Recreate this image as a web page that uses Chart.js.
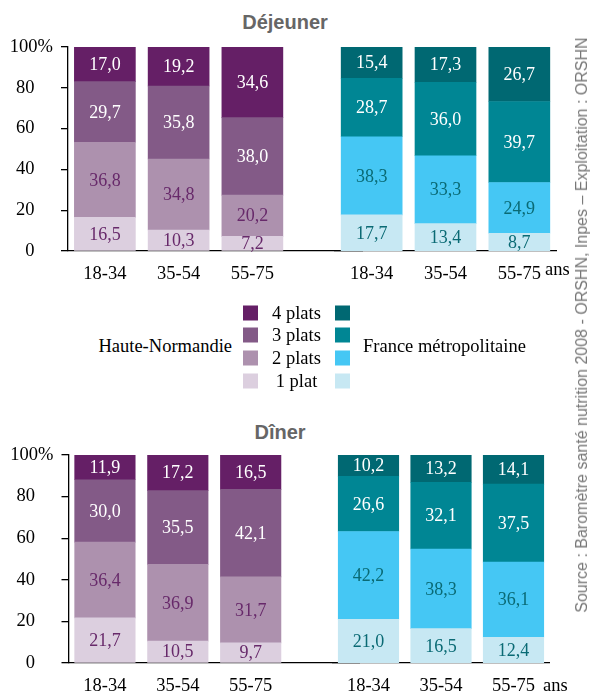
<!DOCTYPE html>
<html>
<head>
<meta charset="utf-8">
<script src="https://cdn.jsdelivr.net/npm/chart.js@4.4.1/dist/chart.umd.min.js"></script>
<style>
  body { margin: 0; background: #fff; }
  #page { position: relative; width: 593px; height: 696px; overflow: hidden; font-family: "Liberation Serif", serif; color: #000; }
  canvas { position: absolute; }
  .title { position: absolute; font: bold 20px/1 "Liberation Sans", Arial, sans-serif; color: #666; transform: translate(-50%, -50%); white-space: nowrap; }
  .txt { position: absolute; font: 18.5px/1 "Liberation Serif", serif; white-space: nowrap; transform: translateY(-50%); }
  .sq { position: absolute; width: 15px; height: 15px; transform: translateY(-50%); }
  #source { position: absolute; left: 582px; top: 325px; font: 16px/1 "Liberation Sans", Arial, sans-serif; color: #777; white-space: nowrap; transform: translate(-50%, -50%) rotate(-90deg); }
</style>
</head>
<body>
<div id="page">
  <div class="title" style="left:285px; top:21.5px">Déjeuner</div>
  <div class="title" style="left:280px; top:431.5px">Dîner</div>
  <canvas id="dejL" width="363" height="291" style="left:0; top:0"></canvas>
  <canvas id="dejR" width="273" height="291" style="left:320px; top:0"></canvas>
  <canvas id="dinL" width="360" height="295" style="left:0; top:408px"></canvas>
  <canvas id="dinR" width="273" height="295" style="left:320px; top:408px"></canvas>
  <div class="txt" style="left:545px; top:269px">ans</div>
  <div class="txt" style="left:543px; top:685px">ans</div>
  <div id="legend"></div>
  <div id="source">Source : Baromètre santé nutrition 2008 - ORSHN, Inpes – Exploitation : ORSHN</div>
</div>
<script>
  const ageGroups = ['18-34', '35-54', '55-75'];
  const platLabels = ['1 plat', '2 plats', '3 plats', '4 plats'];
  const regions = ['Haute-Normandie', 'France métropolitaine'];
  const yTickValues = [0, 20, 40, 60, 80, 100];

  // en %, de 1 plat à 4 plats, par tranche d'âge
  const dejeunerHN = [
    [16.5, 10.3, 7.2],
    [36.8, 34.8, 20.2],
    [29.7, 35.8, 38.0],
    [17.0, 19.2, 34.6],
  ];
  const dejeunerFR = [
    [17.7, 13.4, 8.7],
    [38.3, 33.3, 24.9],
    [28.7, 36.0, 39.7],
    [15.4, 17.3, 26.7],
  ];
  const dinerHN = [
    [21.7, 10.5, 9.7],
    [36.4, 36.9, 31.7],
    [30.0, 35.5, 42.1],
    [11.9, 17.2, 16.5],
  ];
  const dinerFR = [
    [21.0, 16.5, 12.4],
    [42.2, 38.3, 36.1],
    [26.6, 32.1, 37.5],
    [10.2, 13.2, 14.1],
  ];

  const hnColors = ['#dccfdf', '#ad91ae', '#835a87', '#651f66'];
  const frColors = ['#c7e8f3', '#45c7f4', '#008694', '#006872'];
  const hnText = ['#67296a', '#67296a', '#ffffff', '#ffffff'];
  const frText = ['#0a6a74', '#0a6a74', '#ffffff', '#ffffff'];

  const serif = '"Liberation Serif", serif';

  const valueLabels = {
    id: 'valueLabels',
    afterDatasetsDraw(chart) {
      const ctx = chart.ctx;
      ctx.save();
      ctx.font = '18px ' + serif;
      ctx.textAlign = 'center';
      ctx.textBaseline = 'middle';
      chart.data.datasets.forEach((ds, i) => {
        chart.getDatasetMeta(i).data.forEach((bar, j) => {
          const v = ds.data[j];
          if (v == null) return;
          ctx.fillStyle = ds.labelColor;
          ctx.fillText(v.toFixed(1).replace('.', ','), bar.x, (bar.y + bar.base) / 2 + 1);
        });
      });
      ctx.restore();
    }
  };

  function makeChart(id, labels, series, colors, textColors, o) {
    const datasets = series.map((vals, k) => ({
      label: platLabels[k],
      data: vals,
      backgroundColor: colors[k],
      labelColor: textColors[k],
      borderWidth: 0,
      barThickness: o.bar,
    }));
    const y = {
      stacked: true,
      display: o.showY,
      min: 0,
      max: 100,
      afterBuildTicks: s => { s.ticks = yTickValues.map(v => ({ value: v })); },
      grid: { drawOnChartArea: false, color: '#000', tickLength: 7, lineWidth: 1.3 },
      border: { color: '#000', width: 1.3 },
      ticks: {
        color: '#000',
        font: { family: serif, size: 18.5 },
        padding: 8,
        callback: v => v === 100 ? '100%' : v + '\u2003'
      }
    };
    if (o.showY) y.afterFit = s => { s.width = 68; };
    new Chart(document.getElementById(id), {
      type: 'bar',
      data: { labels: labels, datasets: datasets },
      plugins: [valueLabels],
      options: {
        responsive: false,
        animation: false,
        layout: { padding: { top: o.top, left: o.left, right: o.right, bottom: 0 } },
        plugins: { legend: { display: false }, tooltip: { enabled: false } },
        scales: {
          x: {
            stacked: true,
            grid: { display: false, drawTicks: false },
            border: { color: '#000', width: 1.3 },
            ticks: { color: '#000', font: { family: serif, size: 18.5 }, padding: 12 },
            afterFit: s => { s.height = 40; }
          },
          y: y
        }
      }
    });
  }

  const leftLabels = ageGroups.concat(['']);
  makeChart('dejL', leftLabels, dejeunerHN, hnColors, hnText, { showY: true, top: 47, left: 0, right: 0, bar: 61 });
  makeChart('dejR', ageGroups, dejeunerFR, frColors, frText, { showY: false, top: 47, left: 14.75, right: 36.75, bar: 61 });
  makeChart('dinL', leftLabels, dinerHN, hnColors, hnText, { showY: true, top: 47, left: 0.5, right: 0, bar: 60.5 });
  makeChart('dinR', ageGroups, dinerFR, frColors, frText, { showY: false, top: 47, left: 12.25, right: 43.25, bar: 60.5 });

  // légende
  const legend = document.getElementById('legend');
  let html = '';
  for (let r = 0; r < 4; r++) {
    const k = 3 - r;
    const y = 312.5 + r * 22.67;
    html += '<div class="sq" style="left:243px; top:' + y + 'px; background:' + hnColors[k] + '"></div>';
    html += '<div class="sq" style="left:335px; top:' + y + 'px; background:' + frColors[k] + '"></div>';
    html += '<div class="txt" style="left:296.5px; top:' + y + 'px; transform:translate(-50%,-50%)">' + platLabels[k] + '</div>';
  }
  html += '<div class="txt" style="right:361px; top:346px">' + regions[0] + '</div>';
  html += '<div class="txt" style="left:363px; top:346px">' + regions[1] + '</div>';
  legend.innerHTML = html;
</script>
</body>
</html>
